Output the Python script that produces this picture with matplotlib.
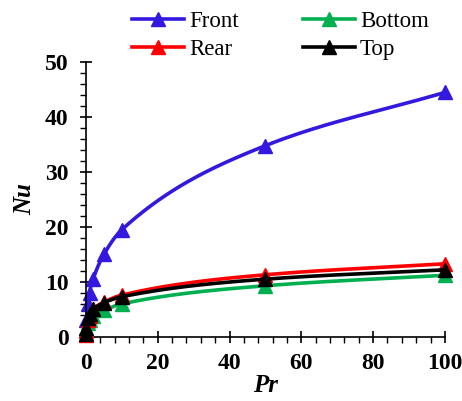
import numpy as np
import matplotlib
matplotlib.use("Agg")
import matplotlib.pyplot as plt
from matplotlib.ticker import MultipleLocator

pr = [0.01, 0.1, 0.7, 1, 2, 5, 10, 50, 100]
nu_front = [1.2, 3.0, 6.0, 8.0, 10.5, 15.0, 19.5, 34.8, 44.5]
nu_rear = [0.3, 1.0, 3.0, 3.8, 5.0, 6.3, 7.6, 11.3, 13.3]
nu_top = [0.6, 1.6, 3.5, 4.2, 5.0, 6.2, 7.3, 10.5, 12.2]
nu_bottom = [0.5, 1.2, 2.5, 3.0, 3.8, 4.8, 6.0, 9.3, 11.2]

series = [
    ("Front", nu_front, "#3319E0"),
    ("Bottom", nu_bottom, "#00B050"),
    ("Rear", nu_rear, "#FF0000"),
    ("Top", nu_top, "#000000"),
]


def smooth(x, y, n=40):
    # monotone cubic (Fritsch-Carlson) curve through the points
    x = np.asarray(x, float)
    y = np.asarray(y, float)
    h = np.diff(x)
    d = np.diff(y) / h
    m = np.zeros_like(y)
    m[0], m[-1] = d[0], d[-1]
    for i in range(1, len(x) - 1):
        if d[i - 1] * d[i] > 0:
            w1 = 2 * h[i] + h[i - 1]
            w2 = h[i] + 2 * h[i - 1]
            m[i] = (w1 + w2) / (w1 / d[i - 1] + w2 / d[i])
    xs, ys = [], []
    for i in range(len(x) - 1):
        t = np.linspace(0, 1, n)
        h00 = 2 * t**3 - 3 * t**2 + 1
        h10 = t**3 - 2 * t**2 + t
        h01 = -2 * t**3 + 3 * t**2
        h11 = t**3 - t**2
        xs.append(x[i] + t * h[i])
        ys.append(h00 * y[i] + h10 * h[i] * m[i] + h01 * y[i + 1]
                  + h11 * h[i] * m[i + 1])
    return np.concatenate(xs), np.concatenate(ys)


plt.rcParams["font.family"] = ["Liberation Serif", "DejaVu Serif"]

fig = plt.figure(figsize=(4.62, 4.01), dpi=100)
ax = fig.add_axes([0.186, 0.160, 0.777, 0.685])

handles = {}
for zo, (name, vals, col) in zip([2, 3, 4, 5], series):
    sx, sy = smooth(pr, vals)
    ax.plot(sx, sy, color=col, lw=2.6, zorder=zo, clip_on=False)
    ax.plot(pr, vals, linestyle="none", marker="^", ms=10, color=col,
            zorder=zo, clip_on=False)
    handles[name] = plt.Line2D([], [], color=col, lw=2.6, marker="^", ms=10)

ax.set_xlim(0, 100)
ax.set_ylim(0, 50)
ax.xaxis.set_major_locator(MultipleLocator(20))
ax.xaxis.set_minor_locator(MultipleLocator(4))
ax.yaxis.set_major_locator(MultipleLocator(10))
ax.yaxis.set_minor_locator(MultipleLocator(2))
ax.tick_params(which="major", direction="inout", length=9, width=1.2,
               labelsize=17)
ax.tick_params(axis="x", which="major", pad=7)
ax.tick_params(axis="y", which="major", pad=8)
ax.tick_params(which="minor", direction="out", length=4.5, width=1.0)
for lab in ax.get_xticklabels() + ax.get_yticklabels():
    lab.set_fontweight("bold")
for s in ("top", "right"):
    ax.spines[s].set_visible(False)
for s in ("left", "bottom"):
    ax.spines[s].set_linewidth(1.2)

ax.set_xlabel("Pr", fontsize=18, fontweight="bold", style="italic", labelpad=0)
ax.set_ylabel("Nu", fontsize=18, fontweight="bold", style="italic", labelpad=6)

order = ["Front", "Rear", "Bottom", "Top"]
fig.legend([handles[k] for k in order], order, ncol=2, frameon=False,
           loc="upper left", bbox_to_anchor=(0.265, 0.995), fontsize=16.5,
           handlelength=2.3, handletextpad=0.2, columnspacing=2.8,
           labelspacing=0.28, borderaxespad=0)

fig.savefig("out.png", dpi=100)
